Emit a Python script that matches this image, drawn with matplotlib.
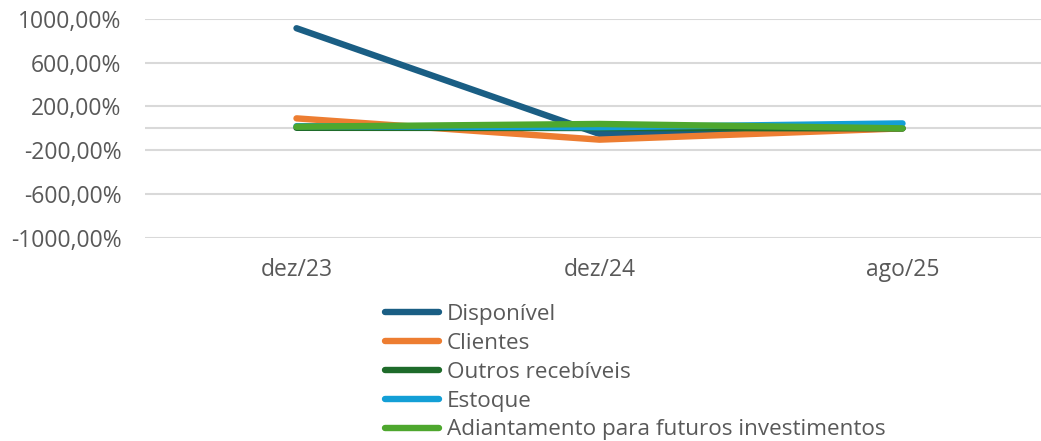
import matplotlib
matplotlib.use("Agg")
import matplotlib.pyplot as plt
from matplotlib.ticker import FuncFormatter

categories = ["dez/23", "dez/24", "ago/25"]
series_names = ["Disponível", "Clientes", "Outros recebíveis", "Estoque",
                "Adiantamento para futuros investimentos"]
disponivel = [913, -51, 0]
clientes = [91, -103, 0]
outros_recebiveis = [5, 3, 0]
estoque = [20, 10, 45]
adiantamento = [15, 40, 0]
series_values = [disponivel, clientes, outros_recebiveis, estoque, adiantamento]
colors = ["#1a5e84", "#ed7d31", "#1e6b2a", "#139fd6", "#4ea72e"]
yticks = [-1000, -600, -200, 200, 600, 1000]

plt.rcParams['font.family'] = ['Open Sans', 'DejaVu Sans']
text_color = "#595959"
grid_color = "#d9d9d9"
fs_tick = 16.5
fs_leg = 16.2

W, H = 1041, 441
fig = plt.figure(figsize=(W / 100, H / 100), dpi=100)
left_px, right_px = 145, 1041
top_px, bot_px = 18.7, 238
ax = fig.add_axes([left_px / W, 1 - bot_px / H, (right_px - left_px) / W, (bot_px - top_px) / H])

x = list(range(len(categories)))
for name, vals, c in zip(series_names, series_values, colors):
    ax.plot(x, vals, color=c, lw=4.6, solid_capstyle="round", solid_joinstyle="round",
            label=name, zorder=3)

ax.set_ylim(-1000, 1000)
ax.set_xlim(-0.5, 2.5 - 13 / 303)
ax.set_yticks(yticks)
ax.yaxis.set_major_formatter(FuncFormatter(lambda v, p: f"{v:.2f}".replace(".", ",") + "%"))
ax.grid(axis="y", color=grid_color, lw=1.5, zorder=0)
ax.axhline(0, color=grid_color, lw=1.5, zorder=1)
for s in ax.spines.values():
    s.set_visible(False)
ax.tick_params(axis="y", length=0, pad=17, labelsize=fs_tick, labelcolor=text_color)
ax.set_xticks(x)
ax.set_xticklabels([])
ax.tick_params(axis="x", length=0)
for xi, cat in zip(x, categories):
    ax.annotate(cat, xy=(xi, 0), xycoords=("data", "axes fraction"),
                xytext=(0, -(270 - bot_px) * 0.72), textcoords="offset points",
                ha="center", va="center", fontsize=fs_tick, color=text_color)

leg = fig.legend(loc="upper left", bbox_to_anchor=(385 / W, 1 - 304 / H),
                 frameon=False, fontsize=fs_leg, handlelength=2.4, handletextpad=0.35,
                 labelspacing=0.35, borderaxespad=0, borderpad=0)
for t in leg.get_texts():
    t.set_color(text_color)
for h in leg.get_lines():
    h.set_linewidth(4.6)
    h.set_solid_capstyle("round")

fig.savefig("out.png", dpi=100)
